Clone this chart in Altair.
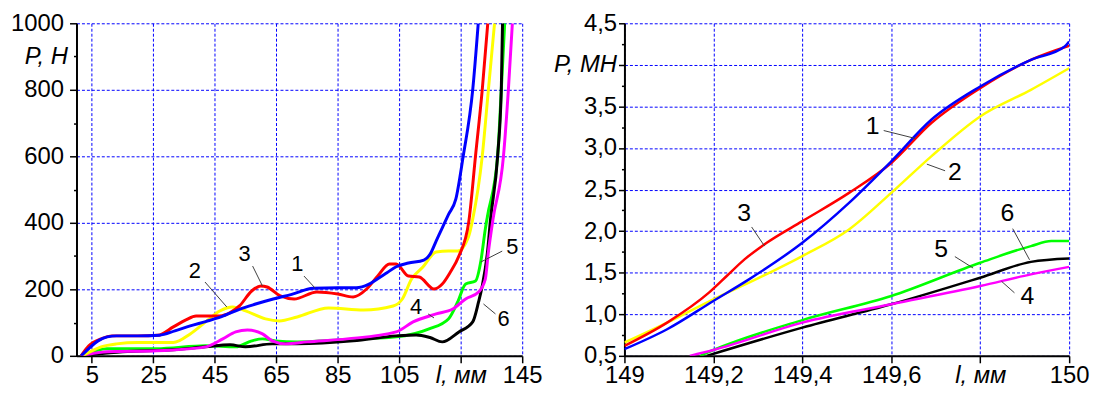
import altair as alt
import pandas as pd

# ---------------- left panel (P, Н vs l, мм) ----------------
L1_x = [1.5, 4, 7, 10, 13, 20, 27, 32, 37, 42, 47, 53, 58, 64, 70, 77, 85, 91, 95, 98, 101, 104, 108, 113, 115, 117, 119, 121, 123.4, 125.8, 128.9, 130.7]
L1_y = [0, 22, 45, 57, 60, 60, 62, 75, 90, 103, 117, 140, 155, 171, 185, 203, 205, 205, 215, 232, 250, 268, 279, 288, 305, 345, 385, 425, 471, 600, 800, 1000]

L2_x = [2, 5, 8, 13, 20, 31.5, 37, 42, 46.6, 50.8, 55, 61.5, 66, 71.8, 82, 93.4, 103, 106, 109, 112.7, 117, 121, 124, 127.6, 128.9, 132, 134, 136]
L2_y = [0, 15, 27, 36, 40, 40, 66, 102, 135, 147, 135, 111, 105, 117, 144, 138, 150, 171, 231, 267, 312, 315, 315, 360, 411, 600, 800, 1000]

L3_x = [1.5, 4, 8, 11.6, 20, 26.5, 31.5, 35.6, 38.9, 46.6, 50, 53, 57, 60, 62, 66.3, 70.8, 78.2, 85, 90, 94.4, 98, 101.8, 104, 108, 111.5, 116.3, 119, 121.5, 124.4, 127.6, 129.8, 132, 133.8]
L3_y = [0, 30, 51, 60, 60, 62, 87, 108, 120, 120, 130, 150, 195, 210, 207, 180, 171, 192, 186, 177, 201, 240, 276, 276, 240, 237, 201, 216, 250, 300, 402, 600, 800, 1000]

L4_x = [1.5, 10, 26, 42, 47.6, 51.8, 55.6, 60.5, 63.7, 68, 75, 88, 104, 109.5, 117, 122.4, 126.6, 130.8, 133, 134, 135.5, 138.9, 140.5, 141.8]
L4_y = [0, 12, 15, 27, 51, 72, 78, 66, 45, 36, 42, 51, 72, 102, 126, 141, 171, 192, 231, 312, 411, 600, 800, 1000]

L5_x = [1.5, 10, 26, 42, 51.8, 57, 60.5, 64.7, 71.8, 85, 104, 114.7, 121, 124, 126.6, 129.8, 131.5, 133, 133.7, 137, 138.2, 139.3]
L5_y = [0, 21, 21, 30, 27, 45, 51, 45, 42, 48, 57, 81, 111, 162, 216, 225, 282, 381, 420, 600, 800, 1000]

L6_x = [1.5, 15, 31.5, 42, 50, 55, 63.7, 71.8, 90, 104, 110.5, 115, 119, 124.4, 128.9, 130.8, 132, 133.7, 134.7, 137, 138.2, 138.6]
L6_y = [0, 12, 18, 27, 33, 27, 36, 36, 45, 60, 63, 55, 42, 72, 102, 162, 210, 312, 411, 600, 800, 1000]

# annotation labels (left)
LA_text = ["1", "2", "3", "4", "5", "6"]
LA_x = [71.8, 38.5, 54.7, 110.5, 141.8, 138.9]
LA_y = [276, 255, 306, 147, 327, 111]
LL_x = [74, 41.8, 57.3, 114.4, 138.5, 136.3]
LL_y = [240, 222, 270, 126, 315, 126]
LL_x2 = [77.6, 48.9, 60.5, 116.3, 131.5, 132.4]
LL_y2 = [204, 147, 210, 114, 282, 156]

# ---------------- right panel (P, МН vs l, мм) ----------------
R1_x = [149.0, 149.096, 149.2, 149.28, 149.4, 149.505, 149.6, 149.69, 149.8, 149.914, 149.99, 150.0]
R1_y = [0.58, 0.82, 1.16, 1.42, 1.86, 2.34, 2.84, 3.34, 3.74, 4.06, 4.22, 4.28]

R2_x = [149.0, 149.096, 149.2, 149.28, 149.4, 149.505, 149.6, 149.69, 149.8, 149.914, 150.0]
R2_y = [0.66, 0.9, 1.18, 1.38, 1.7, 2.02, 2.46, 2.9, 3.38, 3.7, 3.96]

R3_x = [149.0, 149.096, 149.19, 149.23, 149.27, 149.32, 149.4, 149.505, 149.6, 149.69, 149.8, 149.914, 150.0]
R3_y = [0.62, 0.9, 1.26, 1.46, 1.66, 1.86, 2.12, 2.46, 2.82, 3.3, 3.72, 4.06, 4.23]

R4_x = [149.147, 149.2, 149.4, 149.6, 149.8, 149.914, 150.0]
R4_y = [0.5, 0.57, 0.9, 1.12, 1.34, 1.48, 1.57]

R5_x = [149.17, 149.2, 149.4, 149.6, 149.8, 149.914, 149.96, 150.0]
R5_y = [0.5, 0.57, 0.93, 1.22, 1.62, 1.82, 1.88, 1.88]

R6_x = [149.185, 149.4, 149.6, 149.8, 149.914, 150.0]
R6_y = [0.5, 0.84, 1.12, 1.44, 1.63, 1.67]

RA_text = ["1", "2", "3", "4", "5", "6"]
RA_x = [149.558, 149.743, 149.269, 149.906, 149.712, 149.861]
RA_y = [3.26, 2.706, 2.218, 1.218, 1.782, 2.218]
RL_x = [149.583, 149.721, 149.286, 149.877, 149.743, 149.873]
RL_y = [3.21, 2.726, 2.05, 1.258, 1.694, 2.03]
RL_x2 = [149.654, 149.68, 149.315, 149.848, 149.784, 149.911]
RL_y2 = [3.115, 2.806, 1.82, 1.396, 1.556, 1.655]

# styles
COLORS = {"1": "#0000ff", "2": "#ffff00", "3": "#ff0000", "4": "#ff00ff", "5": "#00ff00", "6": "#000000"}
DRAW_ORDER = ["5", "6", "4", "2", "3", "1"]
FONT = "Liberation Sans"
GRID = "#0000ff"

left_series = {"1": (L1_x, L1_y), "2": (L2_x, L2_y), "3": (L3_x, L3_y),
               "4": (L4_x, L4_y), "5": (L5_x, L5_y), "6": (L6_x, L6_y)}
right_series = {"1": (R1_x, R1_y), "2": (R2_x, R2_y), "3": (R3_x, R3_y),
                "4": (R4_x, R4_y), "5": (R5_x, R5_y), "6": (R6_x, R6_y)}


def common_axis(**kw):
    base = dict(grid=True, gridColor=GRID, gridDash=[3, 2], gridWidth=1,
                domainColor="black", domainWidth=2, tickColor="black", tickWidth=1.5,
                labelFont=FONT, labelFontSize=24, labelColor="black",
                labelFlush=False, labelOverlap=False, title=None)
    base.update(kw)
    return alt.Axis(**base)


# left axes
lx_axis = common_axis(values=[5, 25, 45, 65, 85, 105, 125, 145], format="d",
                      labelExpr="datum.value == 125 ? 'l, мм' : datum.label",
                      labelFontStyle={"condition": {"test": "datum.value == 125", "value": "italic"}, "value": "normal"},
                      tickSize=7, labelPadding=1)
ly_axis = common_axis(values=list(range(0, 1001, 100)), format="d",
                      labelExpr="datum.value == 900 ? 'P, Н' : (datum.value % 200 == 0 ? datum.label : '')",
                      labelFontStyle={"condition": {"test": "datum.value == 900", "value": "italic"}, "value": "normal"},
                      tickSize={"condition": {"test": "datum.value % 200 == 0", "value": 7}, "value": 3},
                      gridOpacity={"condition": {"test": "datum.value % 200 == 0", "value": 1}, "value": 0},
                      labelPadding=6)
LX = alt.X("x:Q", scale=alt.Scale(domain=[0, 145], nice=False, zero=False), axis=lx_axis)
LY = alt.Y("y:Q", scale=alt.Scale(domain=[0, 1000], nice=False, zero=False), axis=ly_axis)

# right axes
rx_axis = common_axis(values=[149, 149.2, 149.4, 149.6, 149.8, 150],
                      labelExpr="(datum.value > 149.79 && datum.value < 149.81) ? 'l, мм' : replace(format(datum.value, '~f'), '.', ',')",
                      labelFontStyle={"condition": {"test": "datum.value > 149.79 && datum.value < 149.81", "value": "italic"}, "value": "normal"},
                      tickSize=7, labelPadding=1)
ry_axis = common_axis(values=[0.5 + 0.25 * i for i in range(17)],
                      labelExpr="datum.value == 4 ? 'P, МН' : (datum.value % 0.5 == 0 ? replace(format(datum.value, '.1f'), '.', ',') : '')",
                      labelFontStyle={"condition": {"test": "datum.value == 4", "value": "italic"}, "value": "normal"},
                      tickSize={"condition": {"test": "datum.value % 0.5 == 0", "value": 6}, "value": 3},
                      gridOpacity={"condition": {"test": "datum.value % 0.5 == 0", "value": 1}, "value": 0},
                      labelPadding=2)
RX = alt.X("x:Q", scale=alt.Scale(domain=[149, 150], nice=False, zero=False), axis=rx_axis)
RY = alt.Y("y:Q", scale=alt.Scale(domain=[0.5, 4.5], nice=False, zero=False), axis=ry_axis)


def panel(series, X, Y, a_text, a_x, a_y, l_x, l_y, l_x2, l_y2, width, height, fsize, lw):
    layers = []
    for name in DRAW_ORDER:
        xs, ys = series[name]
        df = pd.DataFrame({"x": xs, "y": ys})
        layers.append(alt.Chart(df).mark_line(color=COLORS[name], strokeWidth=lw,
                                              interpolate="monotone", clip=True)
                      .encode(x=X, y=Y))
    ldf = pd.DataFrame({"x": l_x, "y": l_y, "x2": l_x2, "y2": l_y2})
    layers.append(alt.Chart(ldf).mark_rule(color="#404040", strokeWidth=1)
                  .encode(x=X, y=Y, x2="x2:Q", y2="y2:Q"))
    adf = pd.DataFrame({"x": a_x, "y": a_y, "t": a_text})
    layers.append(alt.Chart(adf).mark_text(font=FONT, fontSize=fsize, color="black",
                                           align="center", baseline="middle")
                  .encode(x=X, y=Y, text="t:N"))
    return alt.layer(*layers).properties(width=width, height=height)


left = panel(left_series, LX, LY, LA_text, LA_x, LA_y, LL_x, LL_y, LL_x2, LL_y2, 449, 335, 22, 3)
right = panel(right_series, RX, RY, RA_text, RA_x, RA_y, RL_x, RL_y, RL_x2, RL_y2, 448, 335, 25, 2.5)

chart = (alt.hconcat(left, right, spacing=10)
         .properties(padding={"left": 2, "top": 2, "right": 0, "bottom": 0}, background="white")
         .configure_view(stroke=None))

chart.save("out.html", embed_options={"renderer": "svg", "actions": False})
